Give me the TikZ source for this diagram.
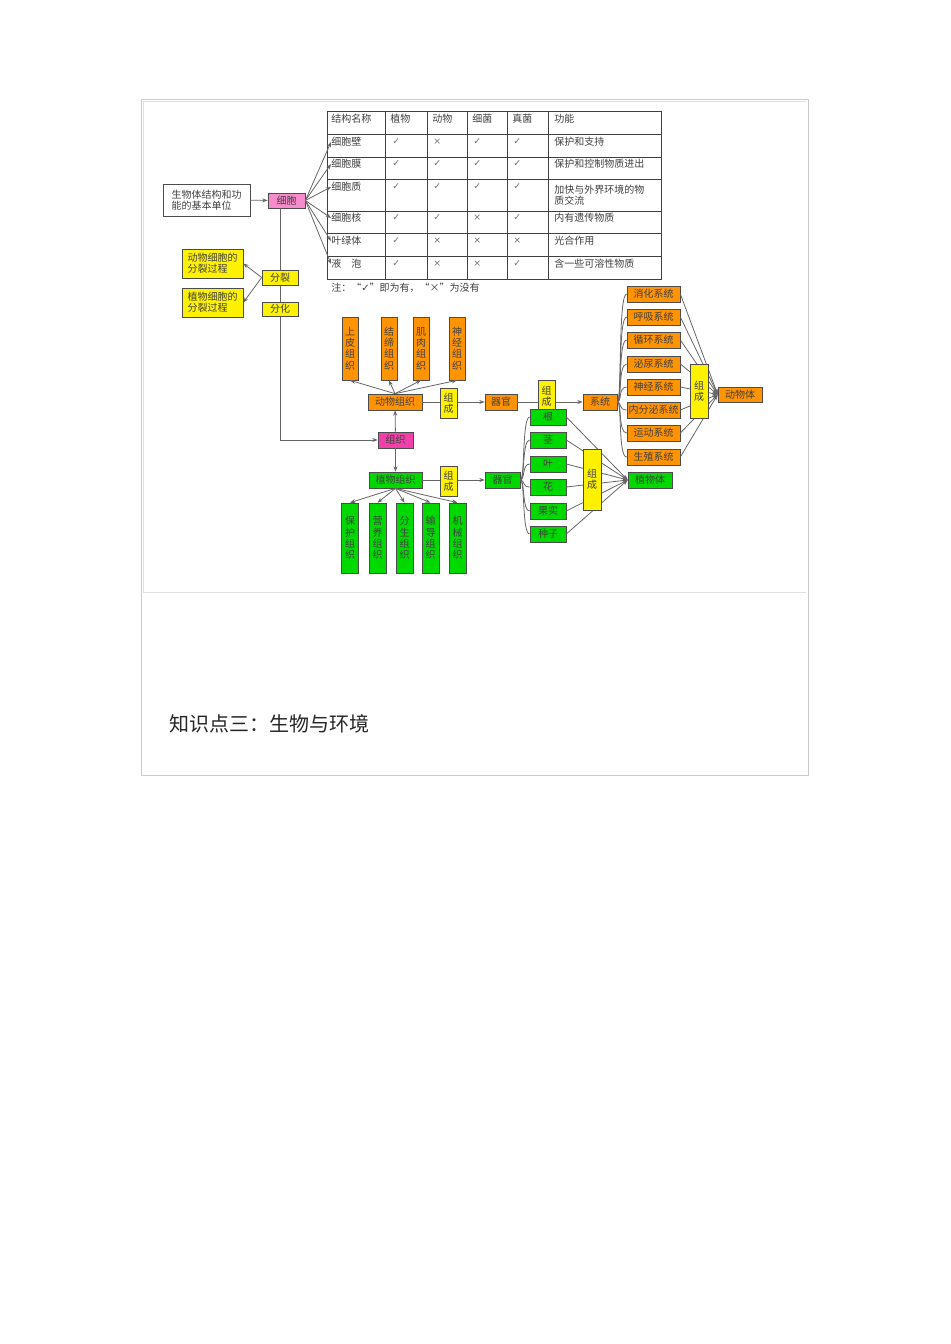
\documentclass[tikz,border=0pt]{standalone}
\usepackage{fontspec}
\setmainfont{Noto Sans CJK SC}
\usetikzlibrary{arrows.meta}
\begin{document}
\begin{tikzpicture}[x=0.75pt,y=-0.75pt,
 bx/.style={draw=black!70,line width=0.5pt,inner sep=0pt,font=\fontsize{7.5}{8.5}\selectfont,text=black!75},
 ora/.style={bx,fill=orange!85!yellow},
 grn/.style={bx,fill=green!85!black},
 yel/.style={bx,fill=yellow},
 pnk/.style={bx,fill=magenta!45},
 ln/.style={draw=black!60,line width=0.6pt},
 ar/.style={ln,-{Stealth[length=4pt,width=3pt]}},
 tx/.style={font=\fontsize{7.5}{8.5}\selectfont,text=black!75,inner sep=0pt,anchor=west}]
\useasboundingbox (0,0) rectangle (950,1344);
\fill[white] (0,0) rectangle (950,1344);
\draw[black!20] (141,99) rectangle (808,775);
\draw[black!12] (143,101) -- (806,101) (143,101) -- (143,592) -- (806,592);
\node[anchor=west,font=\fontsize{15}{18}\selectfont,text=black!85] (title) at (165,724) {知识点三：生物与环境};
% table
\draw[black!75,line width=0.6pt] (327,111) rectangle (661,279);
\foreach \y in {134,157,179,211,233,256} \draw[black!75,line width=0.5pt] (327,\y) -- (661,\y);
\foreach \x in {385,427,467,507,548} \draw[black!75,line width=0.5pt] (\x,111) -- (\x,279);
\foreach \t/\x in {结构名称/331,植物/390,动物/432,细菌/472,真菌/512,功能/554} \node[tx] at (\x,119) {\t};
\node[tx] (r1) at (331,142) {细胞壁};
\node[tx] (r2) at (331,164) {细胞膜};
\node[tx] (r3) at (331,187) {细胞质};
\node[tx] (r4) at (331,218) {细胞核};
\node[tx] (r5) at (331,241) {叶绿体};
\node[tx] (r6) at (331,264) {液\quad 泡};
\foreach \y/\a/\b/\c/\d in {142/✓/×/✓/✓,164/✓/✓/✓/✓,187/✓/✓/✓/✓,218/✓/✓/×/✓,241/✓/×/×/×,264/✓/×/×/✓}{
 \node[tx,font=\fontsize{7}{8}\selectfont\fontspec{DejaVu Sans},text=black!55] at (392,\y) {\a};
 \node[tx,font=\fontsize{7}{8}\selectfont\fontspec{DejaVu Sans},text=black!55] at (433,\y) {\b};
 \node[tx,font=\fontsize{7}{8}\selectfont\fontspec{DejaVu Sans},text=black!55] at (473,\y) {\c};
 \node[tx,font=\fontsize{7}{8}\selectfont\fontspec{DejaVu Sans},text=black!55] at (513,\y) {\d};}
\node[tx] at (554,142) {保护和支持};
\node[tx] at (554,164) {保护和控制物质进出};
\node[tx,align=left] at (554,195) {加快与外界环境的物\\质交流};
\node[tx] at (554,218) {内有遗传物质};
\node[tx] at (554,241) {光合作用};
\node[tx] at (554,264) {含一些可溶性物质};
\node[tx] (note) at (331,288) {注：“\fontspec{DejaVu Sans}✓\fontspec{Noto Sans CJK SC}”即为有，“×”为没有};
% left part
\node[bx,fill=white,minimum width=87pt*0.75,minimum height=32*0.75pt,align=left] (unit) at (206.5,200) {生物体结构和功\\能的基本单位};
\node[pnk,minimum width=37*0.75pt,minimum height=15*0.75pt] (cell) at (286.5,200.5) {细胞};
\draw[ar] (unit) -- (cell);
\foreach \r in {r1,r2,r3,r4,r5,r6} \draw[ar] (cell.east) -- (\r.west);
\node[pnk,fill=magenta!75,minimum width=35*0.75pt,minimum height=16*0.75pt] (tis) at (395.5,440) {组织};
\coordinate (c1) at (280,440);
\draw[ln] (cell.south -| c1) -- (c1);
\draw[ar] (c1) -- (tis);
\node[yel,minimum width=36*0.75pt,minimum height=15*0.75pt] (fl) at (280,277.5) {分裂};
\node[yel,minimum width=36*0.75pt,minimum height=14*0.75pt] (fh) at (280,309) {分化};
\node[yel,minimum width=61*0.75pt,minimum height=29*0.75pt,align=left] (ad) at (212.5,263.5) {动物细胞的\\分裂过程};
\node[yel,minimum width=61*0.75pt,minimum height=29*0.75pt,align=left] (pd) at (212.5,302.5) {植物细胞的\\分裂过程};
\draw[ar] (fl.west) -- (ad.east);
\draw[ar] (fl.west) -- (pd.east);
% animal
\node[ora,minimum width=54*0.75pt,minimum height=16*0.75pt] (at) at (395,402) {动物组织};
\foreach \n/\x/\t in {a1/350/上\\皮\\组\\织,a2/389/结\\缔\\组\\织,a3/421/肌\\肉\\组\\织,a4/457/神\\经\\组\\织}{
 \node[ora,minimum width=16*0.75pt,minimum height=63*0.75pt,align=center] (\n) at (\x,348.5) {\t};
 \draw[ar] (at.north) -- (\n.south);}
\draw[ar] (tis) -- (at);
\node[ora,minimum width=32*0.75pt,minimum height=16*0.75pt] (ao) at (501,402) {器官};
\node[ora,minimum width=34*0.75pt,minimum height=16*0.75pt] (sys) at (600,402) {系统};
\draw[ar] (at) -- (ao);
\draw[ar] (ao) -- (sys);
\node[yel,minimum width=17*0.75pt,minimum height=30*0.75pt,align=center] (y1) at (448.5,403) {组\\成};
\node[yel,minimum width=17*0.75pt,minimum height=32*0.75pt,align=center] (y2) at (546.5,396) {组\\成};
\node[ora,minimum width=44*0.75pt,minimum height=15*0.75pt] (ab) at (740,394.5) {动物体};
\foreach \n/\y/\t in {s1/294/消化系统,s2/317/呼吸系统,s3/340/循环系统,s4/364/泌尿系统,s5/387/神经系统,s6/410/内分泌系统,s7/433/运动系统,s8/457/生殖系统}{
 \node[ora,minimum width=53*0.75pt,minimum height=16*0.75pt] (\n) at (653.5,\y) {\t};
 \draw[ln] (sys.east) .. controls (622,402) and (618,\y) .. (\n.west);
 \draw[ln,-{Stealth[length=4pt,width=3pt]}] (\n.east) -- (ab.west);}
\node[yel,minimum width=18*0.75pt,minimum height=54*0.75pt,align=center] (y3) at (699,391) {组\\成};
% plant
\node[grn,minimum width=53*0.75pt,minimum height=16*0.75pt] (pt) at (395.5,480) {植物组织};
\draw[ar] (tis) -- (pt);
\foreach \n/\x/\t in {p1/350/保\\护\\组\\织,p2/377.5/营\\养\\组\\织,p3/404.5/分\\生\\组\\织,p4/430.5/输\\导\\组\\织,p5/457.5/机\\械\\组\\织}{
 \node[grn,minimum width=17*0.75pt,minimum height=70*0.75pt,align=center] (\n) at (\x,538) {\t};
 \draw[ar] (pt.south) -- (\n.north);}
\node[grn,minimum width=35*0.75pt,minimum height=16*0.75pt] (po) at (502.5,480) {器官};
\draw[ar] (pt) -- (po);
\node[yel,minimum width=17*0.75pt,minimum height=30*0.75pt,align=center] (y4) at (448.5,481) {组\\成};
\node[grn,minimum width=44*0.75pt,minimum height=16*0.75pt] (pb) at (650,480) {植物体};
\foreach \n/\y/\t in {o1/417/根,o2/440/茎,o3/464/叶,o4/487/花,o5/511/果实,o6/534/种子}{
 \node[grn,minimum width=36*0.75pt,minimum height=16*0.75pt] (\n) at (548,\y) {\t};
 \draw[ln] (po.east) .. controls (525,480) and (522,\y) .. (\n.west);
 \draw[ln,-{Stealth[length=4pt,width=3pt]}] (\n.east) -- (pb.west);}
\node[yel,minimum width=18*0.75pt,minimum height=61*0.75pt,align=center] (y5) at (592,479.5) {组\\成};
\end{tikzpicture}
\end{document}
